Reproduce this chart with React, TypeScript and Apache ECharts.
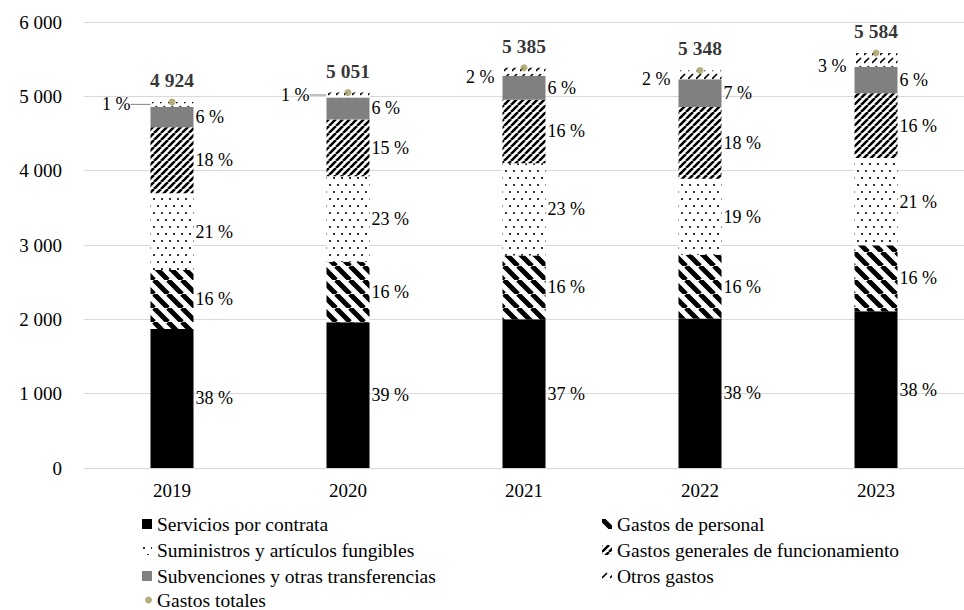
import React, { useEffect, useRef } from 'react';
import * as echarts from 'echarts';

const years = ['2019', '2020', '2021', '2022', '2023'];
const serviciosContrata = [1870, 1960, 2000, 2010, 2110];
const gastosPersonal = [795, 815, 860, 860, 887];
const suministros = [1030, 1150, 1240, 1020, 1175];
const gastosGenerales = [890, 765, 855, 965, 870];
const subvenciones = [275, 295, 320, 375, 355];
const otrosGastos = [64, 66, 110, 118, 187];
const gastosTotales = [4924, 5051, 5385, 5348, 5584];

const pctServicios = [38, 39, 37, 38, 38];
const pctPersonal = [16, 16, 16, 16, 16];
const pctSuministros = [21, 23, 23, 19, 21];
const pctGenerales = [18, 15, 16, 18, 16];
const pctSubvenciones = [6, 6, 6, 7, 6];
const pctOtros = [1, 1, 2, 2, 3];

const Y_MIN = 0;
const Y_MAX = 6000;
const Y_STEP = 1000;

const FONT = '"Liberation Serif", "Times New Roman", serif';

function stripes(size: number, width: number, dir: 'down' | 'up') {
  const c = document.createElement('canvas');
  c.width = size;
  c.height = size;
  const ctx = c.getContext('2d')!;
  ctx.fillStyle = '#fff';
  ctx.fillRect(0, 0, size, size);
  ctx.strokeStyle = '#000';
  ctx.lineWidth = width;
  ctx.beginPath();
  for (let k = -1; k <= 1; k++) {
    if (dir === 'down') {
      ctx.moveTo(k * size, 0);
      ctx.lineTo(k * size + size, size);
    } else {
      ctx.moveTo(k * size, size);
      ctx.lineTo(k * size + size, 0);
    }
  }
  ctx.stroke();
  return { image: c, repeat: 'repeat', imageWidth: size, imageHeight: size };
}

function dots() {
  const w = 8, h = 14;
  const c = document.createElement('canvas');
  c.width = w;
  c.height = h;
  const ctx = c.getContext('2d')!;
  ctx.fillStyle = '#fff';
  ctx.fillRect(0, 0, w, h);
  ctx.fillStyle = '#333';
  ctx.fillRect(1, 2, 2, 2);
  ctx.fillRect(5, 9, 2, 2);
  return { image: c, repeat: 'repeat', imageWidth: w, imageHeight: h };
}

function dashes() {
  const s = 8;
  const c = document.createElement('canvas');
  c.width = s;
  c.height = s;
  const ctx = c.getContext('2d')!;
  ctx.fillStyle = '#fff';
  ctx.fillRect(0, 0, s, s);
  ctx.strokeStyle = '#000';
  ctx.lineWidth = 1.6;
  ctx.beginPath();
  ctx.moveTo(0, 7);
  ctx.lineTo(5, 2);
  ctx.stroke();
  return { image: c, repeat: 'repeat', imageWidth: s, imageHeight: s };
}

const fmtThousands = (n: number) => String(n).replace(/\B(?=(\d{3})+(?!\d))/g, ' ');

export default function App() {
  const ref = useRef<HTMLDivElement>(null);
  useEffect(() => {
    if (!ref.current) return;
    const chart = echarts.init(ref.current, undefined, { renderer: 'svg' });

    const pctLabel = (arr: number[], position = 'right', distance = 2) => ({
      show: true,
      position,
      distance,
      color: '#000',
      fontFamily: FONT,
      fontSize: 18,
      formatter: (p: any) => `${arr[p.dataIndex]} %`,
    });

    const barBase = {
      type: 'bar',
      stack: 'total',
      barWidth: 43,
    };

    const otrosData = otrosGastos.map((v, i) =>
      i < 2
        ? {
            value: v,
            label: { distance: i === 0 ? 20 : 17 },
            labelLine: { show: true, lineStyle: { color: '#808080', width: 1 } },
          }
        : { value: v }
    );
    const otrosDy = [0, 0, 5, 4, 6];

    const legendText = { color: '#000', fontFamily: FONT, fontSize: 19.5 };
    const legendBase = {
      orient: 'vertical',
      top: 514,
      padding: 0,
      itemGap: 6,
      textStyle: legendText,
    };

    const option: any = {
      animation: false,
      grid: { left: 84, top: 22, width: 896, height: 446 },
      xAxis: {
        type: 'category',
        data: years,
        axisLine: { show: true, lineStyle: { color: '#d9d9d9', width: 1 } },
        axisTick: { show: false },
        axisLabel: { color: '#000', fontFamily: FONT, fontSize: 19, margin: 13 },
      },
      yAxis: {
        type: 'value',
        min: Y_MIN,
        max: Y_MAX,
        interval: Y_STEP,
        axisLine: { show: false },
        axisTick: { show: false },
        splitLine: { lineStyle: { color: '#d9d9d9', width: 1 } },
        axisLabel: {
          color: '#000',
          fontFamily: FONT,
          fontSize: 19,
          margin: 22,
          formatter: (v: number) => fmtThousands(v),
        },
      },
      legend: [
        {
          ...legendBase,
          left: 142,
          itemWidth: 10,
          itemHeight: 10,
          icon: 'rect',
          data: ['Servicios por contrata', 'Suministros y artículos fungibles', 'Subvenciones y otras transferencias'],
        },
        {
          ...legendBase,
          left: 602,
          itemWidth: 10,
          itemHeight: 10,
          icon: 'rect',
          data: ['Gastos de personal', 'Gastos generales de funcionamiento', 'Otros gastos'],
        },
        {
          ...legendBase,
          left: 145,
          top: 590,
          itemWidth: 7,
          itemHeight: 7,
          icon: 'circle',
          data: ['Gastos totales'],
        },
      ],
      series: [
        {
          ...barBase,
          name: 'Servicios por contrata',
          data: serviciosContrata,
          itemStyle: { color: '#000' },
          label: pctLabel(pctServicios),
        },
        {
          ...barBase,
          name: 'Gastos de personal',
          data: gastosPersonal,
          itemStyle: { color: stripes(14, 5, 'down') },
          label: pctLabel(pctPersonal),
        },
        {
          ...barBase,
          name: 'Suministros y artículos fungibles',
          data: suministros,
          itemStyle: { color: dots() },
          label: pctLabel(pctSuministros),
        },
        {
          ...barBase,
          name: 'Gastos generales de funcionamiento',
          data: gastosGenerales,
          itemStyle: { color: stripes(7, 2.6, 'up') },
          label: pctLabel(pctGenerales),
        },
        {
          ...barBase,
          name: 'Subvenciones y otras transferencias',
          data: subvenciones,
          itemStyle: { color: '#808080' },
          label: pctLabel(pctSubvenciones),
        },
        {
          ...barBase,
          name: 'Otros gastos',
          data: otrosData,
          itemStyle: { color: dashes() },
          label: pctLabel(pctOtros, 'left', 8),
          labelLine: { show: false, lineStyle: { color: '#808080', width: 1 } },
          labelLayout: (p: any) => (otrosDy[p.dataIndex] ? { dy: otrosDy[p.dataIndex] } : {}),
        },
        {
          type: 'scatter',
          name: 'Gastos totales',
          data: gastosTotales,
          symbol: 'circle',
          symbolSize: 7,
          itemStyle: { color: '#A39A5D' },
          label: {
            show: true,
            position: 'top',
            distance: 8,
            color: '#000',
            fontFamily: FONT,
            fontSize: 19.5,
            fontWeight: 'bold',
            formatter: (p: any) => fmtThousands(p.value),
          },
          z: 5,
        },
      ],
    };
    chart.setOption(option);
    return () => chart.dispose();
  }, []);

  return (
    <div
      ref={ref}
      style={{ position: 'fixed', left: 0, top: 0, width: 964, height: 610, background: '#fff' }}
    />
  );
}
